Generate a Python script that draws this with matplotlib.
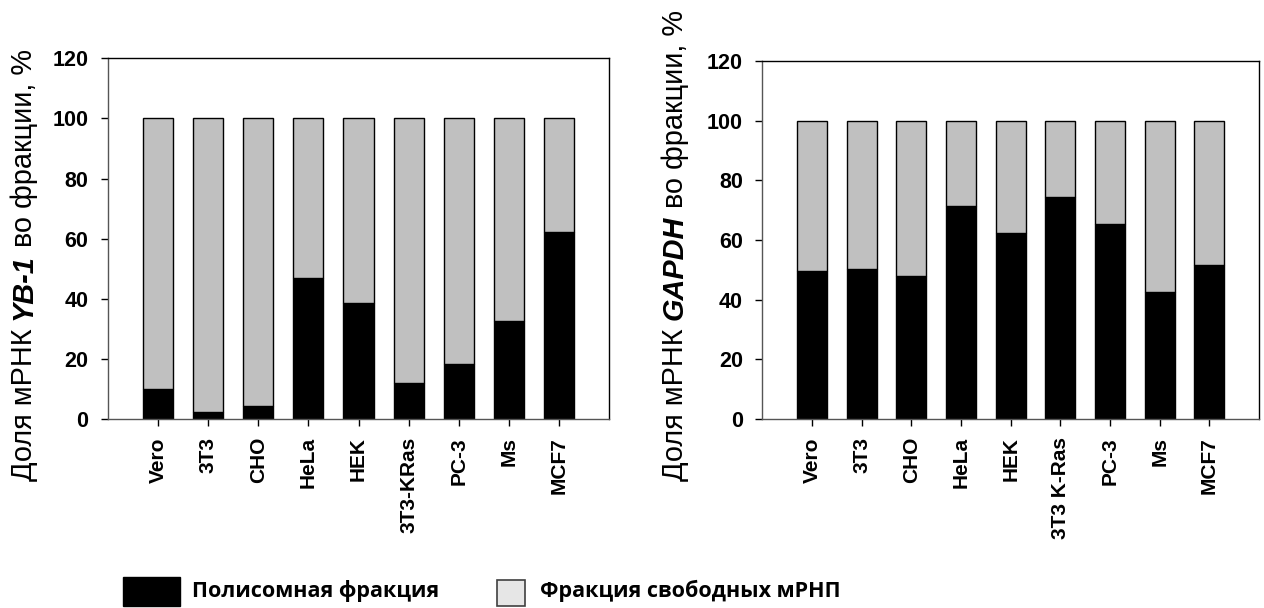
import numpy as np
import matplotlib
matplotlib.use("Agg")
import matplotlib.pyplot as plt
from matplotlib.patches import Rectangle

# cell lines and share of mRNA in polysomal fraction, %
lines_yb1 = ['Vero', '3T3', 'CHO', 'HeLa', 'HEK', '3T3-KRas', 'PC-3', 'Ms', 'MCF7']
poly_yb1 = [10.0, 2.3, 4.3, 46.9, 38.5, 12.0, 18.2, 32.7, 62.2]

lines_gapdh = ['Vero', '3T3', 'CHO', 'HeLa', 'HEK', '3T3 K-Ras', 'PC-3', 'Ms', 'MCF7']
poly_gapdh = [49.6, 50.4, 48.0, 71.5, 62.2, 74.3, 65.5, 42.6, 51.5]

total = 100.0
yticks = [0, 20, 40, 60, 80, 100, 120]

legend_labels = ['Полисомная фракция', 'Фракция свободных мРНП']

W, H = 1264, 608
BASE = 'Liberation Sans'
plt.rcParams['font.family'] = [BASE, 'DejaVu Sans']

fig = plt.figure(figsize=(W / 100, H / 100), dpi=100)


def draw_panel(rect, names, poly):
    ax = fig.add_axes(rect)
    x = np.arange(len(names))
    free = [total - p for p in poly]
    ax.bar(x, poly, 0.6, color='black', edgecolor='black', linewidth=1)
    ax.bar(x, free, 0.6, bottom=poly, color='#c0c0c0', edgecolor='black', linewidth=1)
    ax.set_xlim(-1, 9)
    ax.set_ylim(0, 120)
    ax.set_yticks(yticks)
    ax.set_xticks(x)
    ax.set_xticklabels(names, rotation=90, fontsize=15, fontweight='bold')
    ax.set_yticklabels([str(v) for v in yticks], fontsize=15.5, fontweight='bold')
    ax.tick_params(axis='y', direction='out', length=5, width=1, pad=9)
    ax.tick_params(axis='x', direction='out', length=5, width=1, pad=8)
    for s in ax.spines.values():
        s.set_linewidth(1)
    ax.spines['left'].set_color('#555555')
    ax.spines['bottom'].set_color('#555555')
    return ax


def px(x, y):
    return x / W, 1 - y / H


draw_panel([108 / W, 189 / H, 501 / W, 360.7 / H], lines_yb1, poly_yb1)
draw_panel([762.3 / W, 189 / H, 496.7 / W, 358 / H], lines_gapdh, poly_gapdh)

renderer = fig.canvas.get_renderer()


def vertical_label(x, y, parts, size=20.8):
    # parts are stacked bottom to top, each as (text, weight, style)
    space = 0.278 * size * 100 / 72
    for txt, weight, style in parts:
        t = fig.text(*px(x, y), txt, rotation=90, rotation_mode='anchor',
                     ha='left', va='baseline', fontsize=size,
                     fontweight=weight, fontstyle=style)
        y -= t.get_window_extent(renderer).height + space


vertical_label(32, 481, [('Доля мРНК', 'normal', 'normal'),
                         ('YB-1', 'bold', 'italic'),
                         ('во фракции, %', 'normal', 'normal')])
vertical_label(683, 481, [('Доля мРНК', 'normal', 'normal'),
                          ('GAPDH', 'bold', 'italic'),
                          ('во фракции, %', 'normal', 'normal')])

# legend along the bottom
fig.patches.append(Rectangle(px(123, 606), 57 / W, 29 / H, transform=fig.transFigure,
                             facecolor='black', edgecolor='black', lw=1))
fig.text(*px(192, 597), legend_labels[0], fontsize=15.5, fontweight='bold',
         family=['Open Sans', 'DejaVu Sans'], va='baseline')
fig.patches.append(Rectangle(px(497, 606), 28 / W, 26 / H, transform=fig.transFigure,
                             facecolor='#e6e6e6', edgecolor='#404040', lw=1.2))
fig.text(*px(540, 597), legend_labels[1], fontsize=15.5, fontweight='bold',
         family=['Open Sans', 'DejaVu Sans'], va='baseline')

fig.savefig('out.png', dpi=100)
